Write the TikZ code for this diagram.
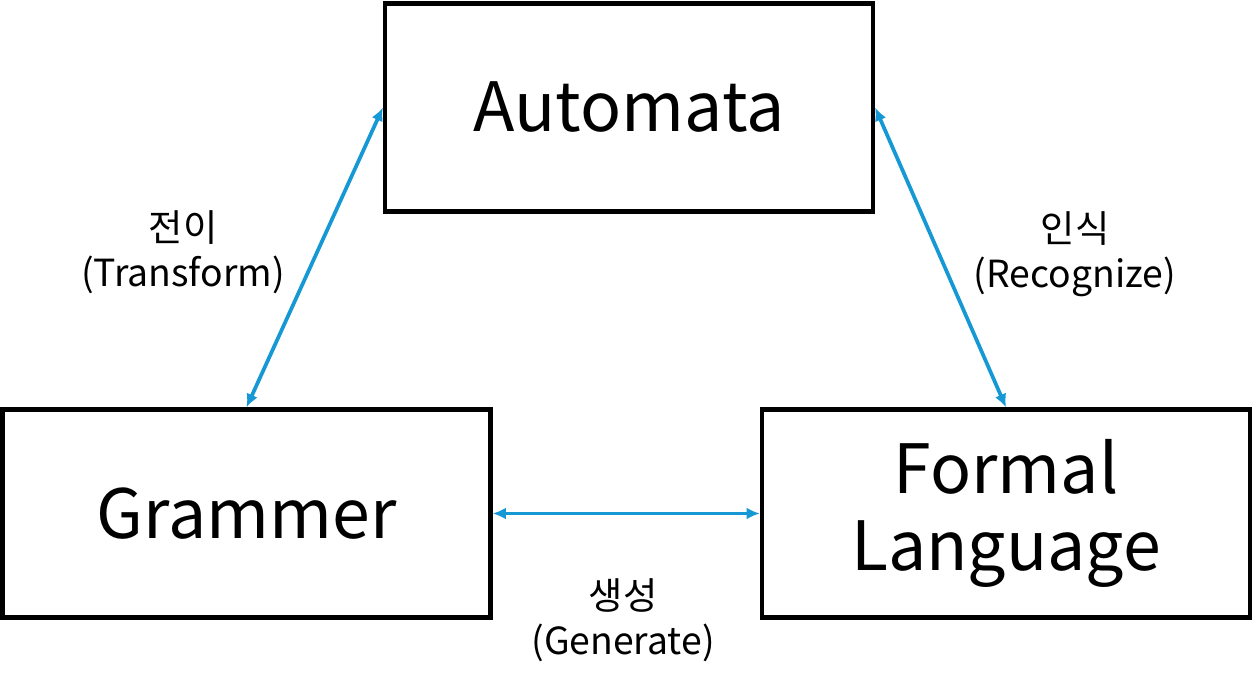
\documentclass[tikz,border=0pt]{standalone}
\usepackage{fontspec}
\setmainfont{Noto Sans CJK KR}
\usetikzlibrary{arrows.meta,positioning}
\definecolor{linkblue}{RGB}{22,152,212}
\tikzset{
  box/.style={draw,line width=3.2pt,minimum width=366pt,minimum height=156pt,inner sep=0pt,align=center,font=\fontsize{51}{60}\selectfont},
  link/.style={linkblue,line width=2.8pt,{Latex[length=10pt,width=9pt]}-{Latex[length=10pt,width=9pt]}},
  tag/.style={align=center,font=\fontsize{28}{34}\selectfont}
}
\begin{document}
\begin{tikzpicture}[x=0.75pt,y=-0.75pt]
        \useasboundingbox (0,0) rectangle (1252,688);
        % Boxes
        \node[box] (auto) at (629,107.5) {Automata};
        \node[box] (gram) at (246.5,513.5) {Grammer};
        \node[box] (lang) at (1006,513.5) {Formal\\[-2pt]Language};

        % Links
        \draw[link] (auto.west) -- (gram.north);
        \draw[link] (auto.east) -- (lang.north);
        \draw[link] (gram.east) -- (lang.west);

        % Labels
        \node[tag] (trans) at (183,252) {전이\\(Transform)};
        \node[tag] (recog) at (1075,254) {인식\\(Recognize)};
        \node[tag] (gen) at (623,620) {생성\\(Generate)};
\end{tikzpicture}
\end{document}
